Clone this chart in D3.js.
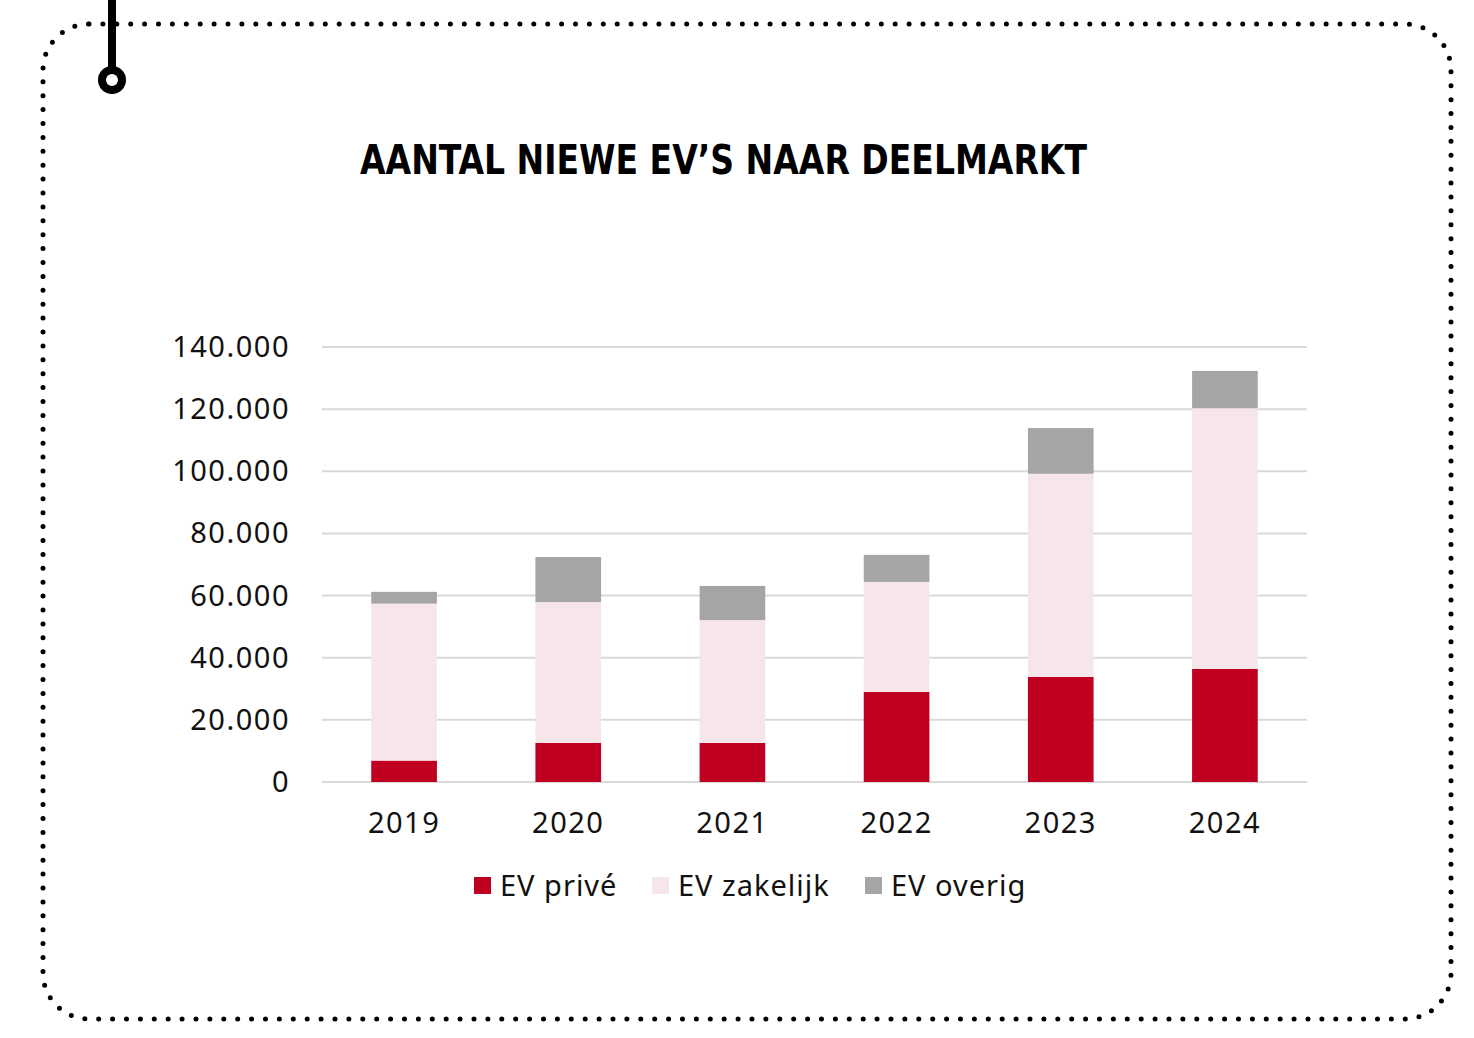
<!DOCTYPE html>
<html>
<head>
<meta charset="utf-8">
<script src="https://cdn.jsdelivr.net/npm/d3@7"></script>
<style>
  body { margin: 0; background: #fff; }
  text { font-family: "Noto Sans", sans-serif; }
</style>
</head>
<body>
<div id="chart"></div>
<script>
const years = ["2019", "2020", "2021", "2022", "2023", "2024"];
const evPrive = [6900, 12600, 12600, 29000, 33800, 36400];
const evZakelijk = [50500, 45300, 39500, 35400, 65400, 83900];
const evOverig = [3800, 14500, 11000, 8700, 14700, 12000];
const yTicks = [0, 20000, 40000, 60000, 80000, 100000, 120000, 140000];
const seriesNames = ["EV privé", "EV zakelijk", "EV overig"];
const colors = ["#c00020", "#f7e6e9", "#a5a5a5"];

const width = 1474, height = 1038;
const margin = { top: 347, right: 167, bottom: 256, left: 322 };

const svg = d3.select("#chart").append("svg")
  .attr("width", width)
  .attr("height", height);

// dotted frame
svg.append("rect")
  .attr("x", 43).attr("y", 24)
  .attr("width", 1408).attr("height", 995)
  .attr("rx", 46).attr("ry", 46)
  .attr("fill", "none")
  .attr("stroke", "#000")
  .attr("stroke-width", 5)
  .attr("stroke-linecap", "round")
  .attr("stroke-dasharray", "0 13.9");

// pin
svg.append("line")
  .attr("x1", 112).attr("x2", 112)
  .attr("y1", 0).attr("y2", 68)
  .attr("stroke", "#000").attr("stroke-width", 8);
svg.append("circle")
  .attr("cx", 112).attr("cy", 80).attr("r", 10)
  .attr("fill", "#fff").attr("stroke", "#000").attr("stroke-width", 8);

// title
svg.append("text")
  .attr("x", 360).attr("y", 174)
  .attr("textLength", 727)
  .attr("lengthAdjust", "spacingAndGlyphs")
  .style("font-family", "'DejaVu Sans Condensed', 'Liberation Sans Narrow', sans-serif")
  .style("font-weight", "bold")
  .style("font-stretch", "condensed")
  .style("font-size", "40px")
  .text("AANTAL NIEWE EV’S NAAR DEELMARKT");

const x = d3.scaleBand()
  .domain(years)
  .range([margin.left, width - margin.right])
  .paddingInner(0.6)
  .paddingOuter(0.3);

const y = d3.scaleLinear()
  .domain([0, 140000])
  .range([height - margin.bottom, margin.top]);

const fmt = (v) => d3.format(",")(v).replace(/,/g, ".");

// grid
svg.append("g")
  .selectAll("line")
  .data(yTicks)
  .enter()
  .append("line")
  .attr("x1", margin.left)
  .attr("x2", width - margin.right)
  .attr("y1", (d) => y(d))
  .attr("y2", (d) => y(d))
  .attr("stroke", "#d9d9d9")
  .attr("stroke-width", 2);

// y labels
svg.append("g")
  .selectAll("text")
  .data(yTicks)
  .enter()
  .append("text")
  .attr("x", 290)
  .attr("y", (d) => y(d) + 10)
  .attr("text-anchor", "end")
  .style("font-size", "29px")
  .style("letter-spacing", "1.5px")
  .style("fill", "#111")
  .text(fmt);

// stacked bars
const table = years.map((yr, i) => ({
  year: yr,
  "EV privé": evPrive[i],
  "EV zakelijk": evZakelijk[i],
  "EV overig": evOverig[i],
}));
const stacked = d3.stack().keys(seriesNames)(table);

svg.append("g")
  .selectAll("g")
  .data(stacked)
  .enter()
  .append("g")
  .attr("fill", (_, i) => colors[i])
  .selectAll("rect")
  .data((d) => d)
  .enter()
  .append("rect")
  .attr("x", (d) => x(d.data.year))
  .attr("width", x.bandwidth())
  .attr("y", (d) => y(d[1]))
  .attr("height", (d) => y(d[0]) - y(d[1]));

// x labels
svg.append("g")
  .selectAll("text")
  .data(years)
  .enter()
  .append("text")
  .attr("x", (d) => x(d) + x.bandwidth() / 2)
  .attr("y", 833)
  .attr("text-anchor", "middle")
  .style("font-size", "29px")
  .style("letter-spacing", "1.5px")
  .style("fill", "#111")
  .text((d) => d);

// legend
const legendX = [474, 652, 865];
const legend = svg.append("g")
  .selectAll("g")
  .data(seriesNames)
  .enter()
  .append("g")
  .attr("transform", (_, i) => `translate(${legendX[i]}, 877)`);
legend.append("rect")
  .attr("width", 17).attr("height", 17)
  .attr("fill", (_, i) => colors[i]);
legend.append("text")
  .attr("x", 26).attr("y", 19)
  .style("font-size", "29px")
  .style("letter-spacing", "1px")
  .style("fill", "#111")
  .text((d) => d);
</script>
</body>
</html>
